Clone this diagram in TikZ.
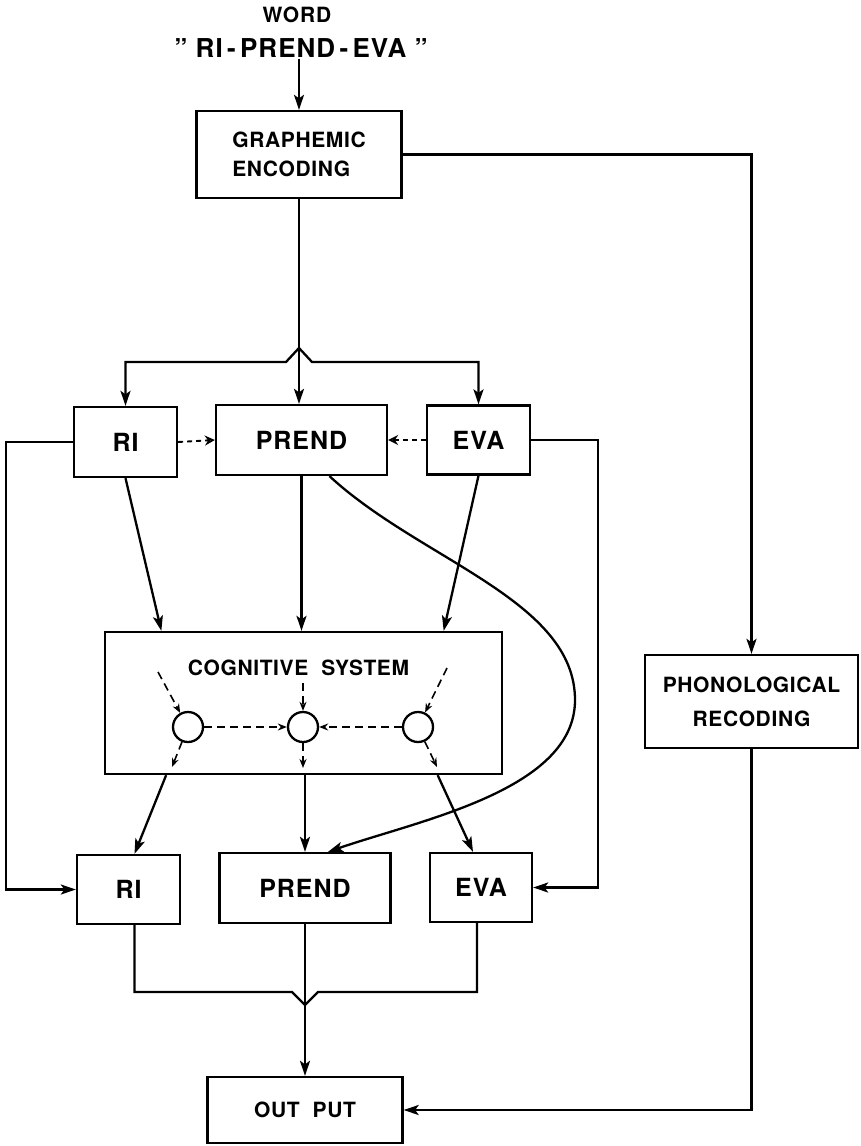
\documentclass[tikz,border=0pt]{standalone}
\usepackage{fontspec}
\setmainfont{TeX Gyre Heros}
\usepackage{tikz}
\usetikzlibrary{arrows.meta, calc, positioning}

\begin{document}
\begin{tikzpicture}[x=1pt, y=-1pt,
  box/.style={draw, line width=2.3pt, font=\bfseries\fontsize{25}{30}\selectfont\addfontfeature{LetterSpace=4}},
  smallbox/.style={draw, line width=2.3pt, align=center, font=\bfseries\fontsize{21}{29}\selectfont\addfontfeature{LetterSpace=3}},
  arr/.style={line width=2.3pt, -{Stealth[length=15pt,width=10pt,inset=3.5pt]}},
  link/.style={line width=2.3pt},
  darr/.style={line width=1.6pt, dash pattern=on 8pt off 5pt, -{Stealth[length=9pt,width=7pt]}},
  oarr/.style={line width=1.9pt, dash pattern=on 5pt off 4pt, -{Stealth[open,length=10pt,width=10pt]}},
  dot/.style={draw, circle, line width=2.3pt, minimum size=30pt, inner sep=0pt}]

	\useasboundingbox (0,0) rectangle (861,1146);

	% input word
	\node[font=\bfseries\fontsize{21}{25}\selectfont\addfontfeature{LetterSpace=4}] (word) at (297,15) {WORD};
	\node[font=\bfseries\fontsize{26}{30}\selectfont\addfontfeature{LetterSpace=4}, inner sep=1pt] (title) at (301,48) {” RI\,-\,PREND\,-\,EVA ”};

	\node[smallbox, align=left, minimum width=205pt, minimum height=87pt] (ge) at (299,154.5) {GRAPHEMIC\\ENCODING};

	% first row
	\node[box, minimum width=103pt, minimum height=70pt] (ri1) at (125.5,442) {RI};
	\node[box, minimum width=171pt, minimum height=70pt] (prend1) at (301.5,440) {PREND};
	\node[box, minimum width=103pt, minimum height=69pt] (eva1) at (478.5,440) {EVA};

	% cognitive system
	\node[draw, line width=2.3pt, minimum width=397pt, minimum height=142pt] (cog) at (303.5,703) {};
	\node[font=\bfseries\fontsize{21}{25}\selectfont\addfontfeature{LetterSpace=3}] (cogl) at (298.5,668) {COGNITIVE\ \ SYSTEM};
	\foreach \x/\n in {188/c1, 303/c2, 418/c3}
		\node[dot] (\n) at (\x,727) {};

	% second row
	\node[box, minimum width=103pt, minimum height=69pt] (ri2) at (128.5,889.5) {RI};
	\node[box, minimum width=171pt, minimum height=70pt] (prend2) at (305,888) {PREND};
	\node[box, minimum width=102pt, minimum height=69pt] (eva2) at (481,887.5) {EVA};

	\node[smallbox, font=\bfseries\fontsize{21}{34}\selectfont\addfontfeature{LetterSpace=3}, minimum width=213pt, minimum height=93pt] (phon) at (751.5,701.5) {PHONOLOGICAL\\RECODING};
	\node[smallbox, minimum width=195pt, minimum height=66pt] (out) at (305,1110) {OUT\ \ PUT};

	% top connectors
	\draw[arr] (ge.north |- title.south) -- (ge.north);
	\coordinate (jt) at (299,348);
	\draw[arr] (ge.south) -- (ge.south |- prend1.north);
	\draw[arr] (jt) -- ++(-13,14) -| (ri1.north);
	\draw[arr] (jt) -- ++(13,14) -| (eva1.north);
	\draw[oarr] (ri1.east) -- (prend1.west);
	\draw[oarr] (eva1.west) -- (prend1.east);

	\draw[arr] (ri1.south) -- ($(cog.north west)!0.144!(cog.north east)$);
	\draw[arr] (prend1.south) -- (prend1.south |- cog.north);
	\draw[arr] (eva1.south) -- ($(cog.north west)!0.851!(cog.north east)$);

	% inside the cognitive system
	\draw[darr] ($(c1)+(-30,-55)$) -- (c1.119);
	\draw[darr] ($(c2)+(0,-44)$) -- (c2.north);
	\draw[darr] ($(c3)+(29,-59)$) -- (c3.64);
	\draw[darr] (c1.east) -- (c2.west);
	\draw[darr] (c3.west) -- (c2.east);
	\draw[darr] (c1.248) -- ($(c1)+(-16,40)$);
	\draw[darr] (c2.south) -- ($(c2)+(0,41)$);
	\draw[darr] (c3.295) -- ($(c3)+(19,40)$);

	\draw[arr] ($(cog.south west)!0.156!(cog.south east)$) -- ($(ri2.north)+(6,0)$);
	\draw[arr] (prend2.north |- cog.south) -- (prend2.north);
	\draw[arr] ($(cog.south west)!0.836!(cog.south east)$) -- ($(eva2.north)+(-8,0)$);
	\draw[arr] ($(prend1.south)+(28,0)$) .. controls (420,560) and (575,600) .. (575,700)
		.. controls (575,790) and (420,820) .. ($(prend2.north)+(23,0)$);

	% side paths
	\draw[arr] (ri1.west) -- ++(-67,0) |- (ri2.west);
	\draw[arr] (eva1.east) -- ++(67,0) |- (eva2.east);
	\draw[arr] (ge.east) -| (phon.north);
	\draw[arr] (phon.south) |- (out.east);

	% output
	\coordinate (jb) at (305,1005);
	\draw[link] ($(ri2.south)+(6,0)$) |- ($(jb)+(-13,-13)$) -- (jb) -- ($(jb)+(13,-13)$) -| ($(eva2.south)+(-4,0)$);
	\draw[arr] (prend2.south) -- (out.north);
\end{tikzpicture}
\end{document}
